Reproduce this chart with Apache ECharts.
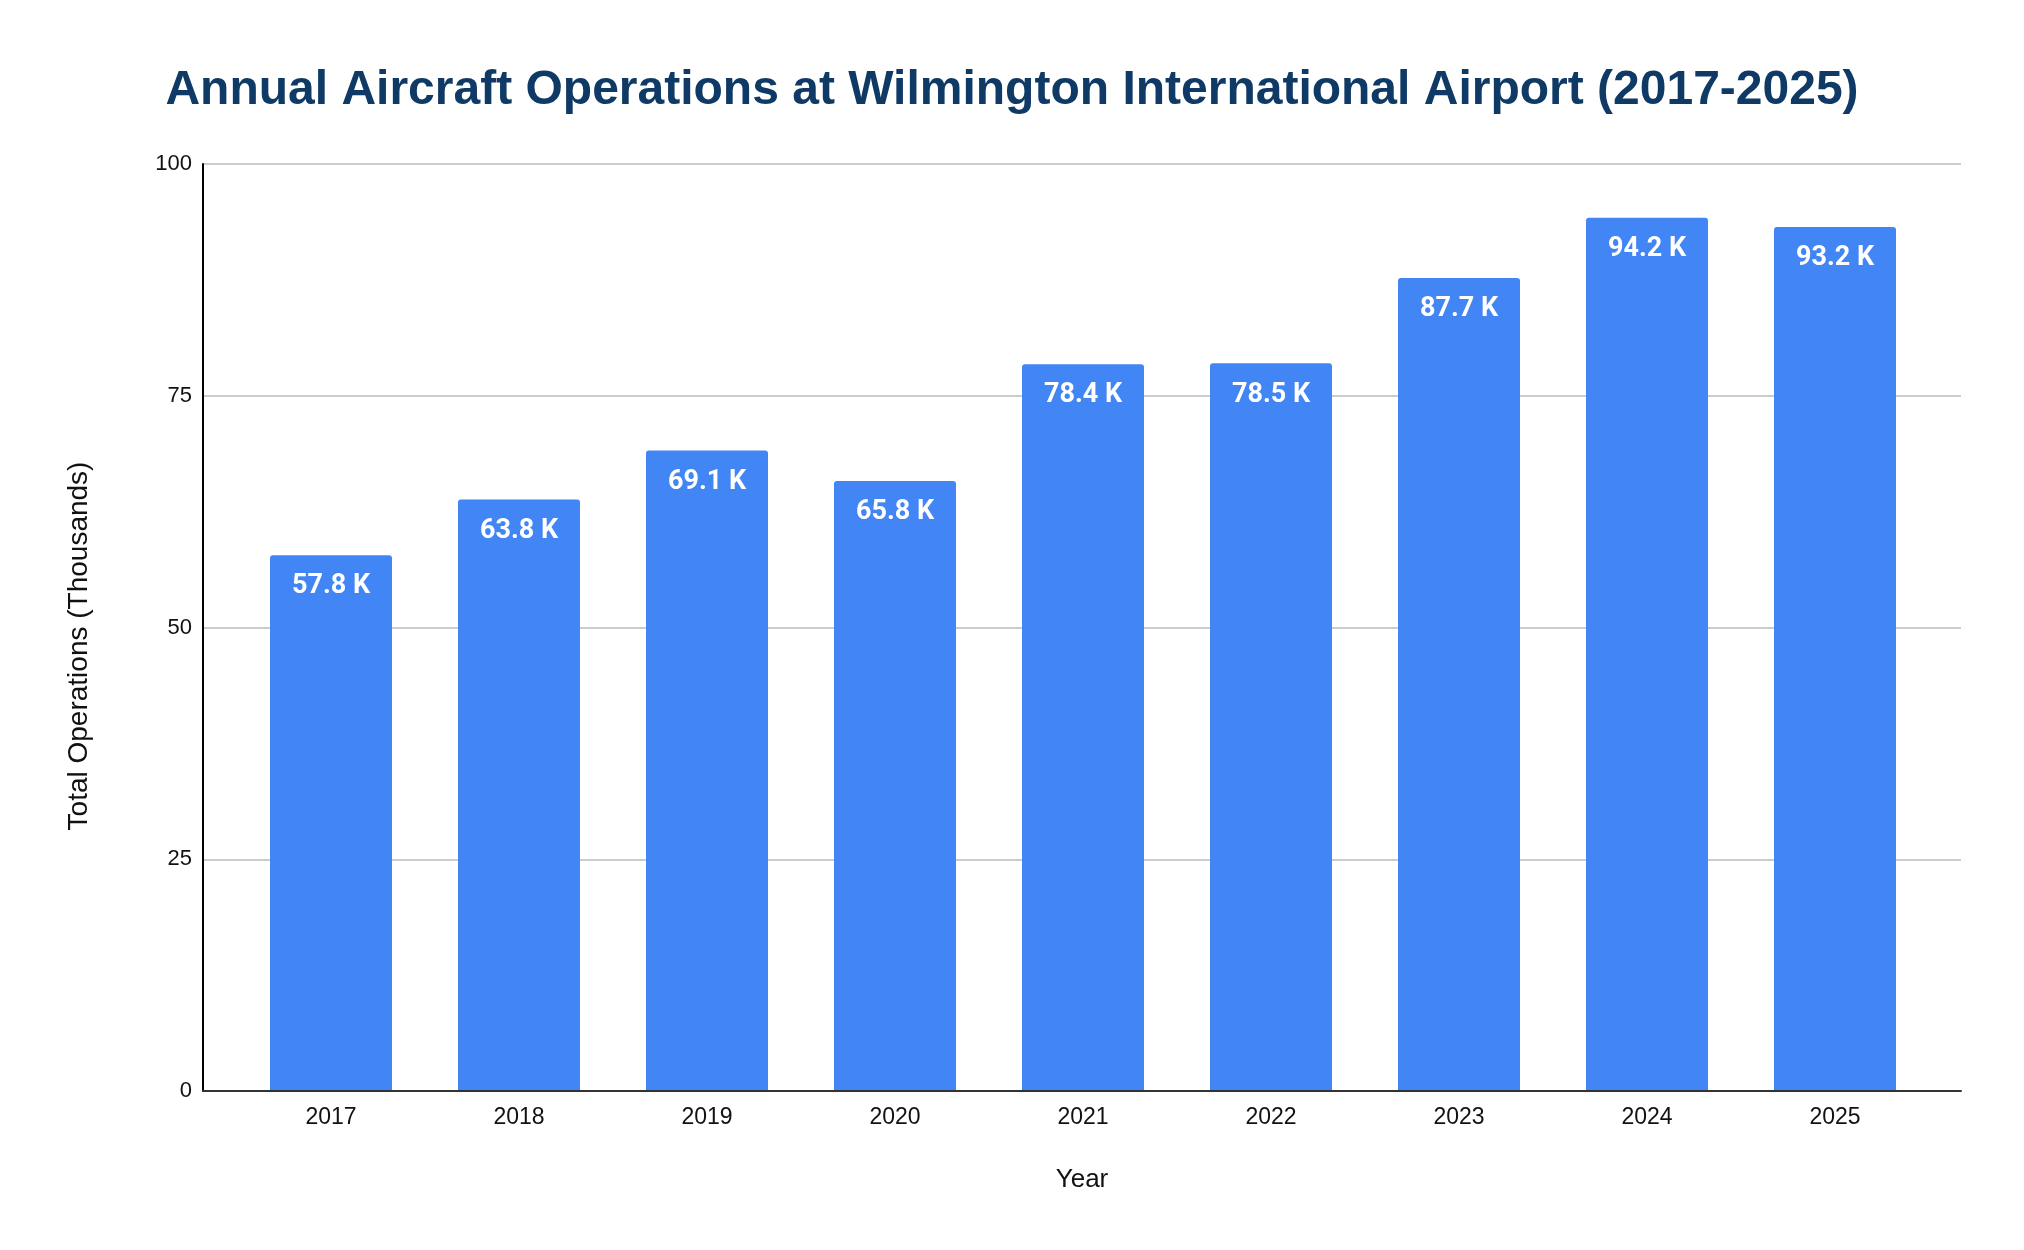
<!DOCTYPE html>
<html>
<head>
<meta charset="utf-8">
<script src="https://cdn.jsdelivr.net/npm/echarts@6/dist/echarts.min.js"></script>
<style>
html,body{margin:0;padding:0;background:#fff;}
#chart{width:2024px;height:1250px;}
</style>
</head>
<body>
<div id="chart"></div>
<script>
const years = ['2017','2018','2019','2020','2021','2022','2023','2024','2025'];
const operations = [57.8, 63.8, 69.1, 65.8, 78.4, 78.5, 87.7, 94.2, 93.2];
const yTicks = [0, 25, 50, 75, 100];

const chart = echarts.init(document.getElementById('chart'), null, {renderer: 'canvas'});
const option = {
  backgroundColor: '#ffffff',
  animation: false,
  title: {
    text: 'Annual Aircraft Operations at Wilmington International Airport (2017-2025)',
    left: 'center',
    top: 62,
    textStyle: {
      fontFamily: 'Liberation Sans, Arial, sans-serif',
      fontWeight: 'bold',
      fontSize: 48,
      color: '#0f3a66'
    }
  },
  grid: [
    {left: 203, right: 63, top: 164, bottom: 159},
    {left: 237, right: 95, top: 164, bottom: 159}
  ],
  xAxis: [
    {
      gridIndex: 0,
      type: 'value',
      min: 0,
      max: 1,
      z: 5,
      axisLine: {show: true, lineStyle: {color: '#333333', width: 2}},
      axisTick: {show: false},
      axisLabel: {show: false},
      splitLine: {show: false},
      name: 'Year',
      nameLocation: 'middle',
      nameGap: 76,
      nameTextStyle: {fontFamily: 'Liberation Sans, Arial, sans-serif', fontSize: 26, color: '#111111'}
    },
    {
      gridIndex: 1,
      type: 'category',
      data: years,
      axisLine: {show: false},
      axisTick: {show: false},
      axisLabel: {
        margin: 15,
        fontFamily: 'Liberation Sans, Arial, sans-serif',
        fontSize: 23,
        color: '#111111'
      }
    }
  ],
  yAxis: [
    {
      gridIndex: 0,
      type: 'value',
      min: yTicks[0],
      max: yTicks[yTicks.length - 1],
      interval: 25,
      z: 0,
      axisLine: {show: true, lineStyle: {color: '#000000', width: 2}},
      axisTick: {show: false},
      axisLabel: {
        margin: 11,
        fontFamily: 'Liberation Sans, Arial, sans-serif',
        fontSize: 22,
        color: '#111111'
      },
      splitLine: {show: true, lineStyle: {color: '#cccccc', width: 2}}
    },
    {
      gridIndex: 1,
      type: 'value',
      min: yTicks[0],
      max: yTicks[yTicks.length - 1],
      show: false
    }
  ],
  graphic: [
    {
      type: 'text',
      x: 79,
      y: 646,
      rotation: Math.PI / 2,
      style: {
        text: 'Total Operations (Thousands)',
        fontFamily: 'Liberation Sans, Arial, sans-serif',
        fontSize: 28,
        fill: '#111111',
        align: 'center',
        verticalAlign: 'middle'
      }
    }
  ],
  series: [
    {
      type: 'bar',
      xAxisIndex: 1,
      yAxisIndex: 1,
      z: 3,
      data: operations,
      barWidth: 122,
      itemStyle: {color: '#4285f4', borderRadius: [3, 3, 0, 0]},
      label: {
        show: true,
        position: 'insideTop',
        distance: 18,
        formatter: p => p.value.toFixed(1) + ' K',
        fontFamily: 'Roboto, sans-serif',
        fontWeight: 'bold',
        fontSize: 27,
        color: '#ffffff'
      }
    }
  ]
};
chart.setOption(option);
</script>
</body>
</html>
